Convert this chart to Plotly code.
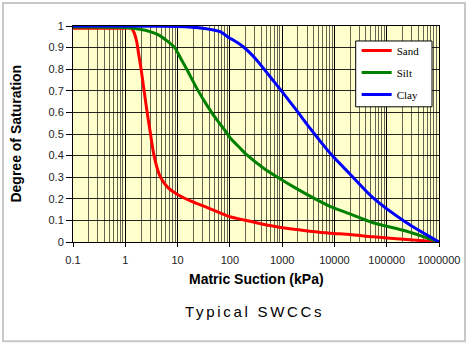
import plotly.graph_objects as go

# Soil-water characteristic curves: matric suction (kPa) vs degree of saturation
sand_suction = [0.1, 0.5, 1.0, 1.314, 1.499, 1.66, 1.788, 2.014, 2.238, 2.466, 2.716, 2.994,
                3.283, 3.585, 3.951, 4.411, 5.145, 6.553, 10.18, 18.6, 31, 65, 100, 156, 242,
                585, 1410, 3400, 8200, 19900, 55000, 240000, 1000000]
sand_sat = [0.99, 0.99, 0.99, 0.989, 0.965, 0.926, 0.875, 0.797, 0.718, 0.644, 0.575, 0.510,
            0.446, 0.395, 0.353, 0.316, 0.284, 0.252, 0.219, 0.188, 0.167, 0.135, 0.117, 0.106,
            0.096, 0.076, 0.061, 0.050, 0.041, 0.035, 0.024, 0.012, 0.0]

silt_suction = [0.1, 1.0, 1.91, 2.97, 4.4, 6.0, 8.8, 11.5, 15, 23.5, 36, 56, 75, 100, 156,
                209, 436, 908, 1890, 3940, 8200, 19800, 55000, 240000, 1000000]
silt_sat = [0.995, 0.993, 0.985, 0.974, 0.958, 0.935, 0.900, 0.850, 0.800, 0.710, 0.635, 0.566,
            0.527, 0.484, 0.435, 0.404, 0.343, 0.293, 0.247, 0.204, 0.165, 0.130, 0.089, 0.050,
            0.0]

clay_suction = [0.1, 10, 30, 64.7, 100, 116, 180, 325, 585, 1050, 1890, 3400, 8200, 19800,
                55000, 240000, 1000000]
clay_sat = [1.0, 0.998, 0.99, 0.974, 0.943, 0.935, 0.904, 0.843, 0.766, 0.689, 0.609, 0.527,
            0.412, 0.315, 0.204, 0.089, 0.0]

x_tick_vals = [0.1, 1, 10, 100, 1000, 10000, 100000, 1000000]
x_tick_text = ["0.1", "1", "10", "100", "1000", "10000", "100000", "1000000"]
y_tick_vals = [0, 0.1, 0.2, 0.3, 0.4, 0.5, 0.6, 0.7, 0.8, 0.9, 1]
y_tick_text = ["0", "0.1", "0.2", "0.3", "0.4", "0.5", "0.6", "0.7", "0.8", "0.9", "1"]

series = [
    ("Sand", sand_suction, sand_sat, "#ff0000"),
    ("Silt", silt_suction, silt_sat, "#008000"),
    ("Clay", clay_suction, clay_sat, "#0000ff"),
]

fig = go.Figure()
for name, xs, ys, color in series:
    fig.add_trace(go.Scatter(
        x=xs, y=ys, name=name, mode="lines", legendgroup=name,
        line=dict(color=color, width=3, shape="spline", smoothing=0.7),
    ))

sans = "Liberation Sans, Arial, sans-serif"

fig.update_layout(
    width=471, height=347,
    margin=dict(l=73, r=32, t=26, b=104.5),
    paper_bgcolor="white",
    plot_bgcolor="#ffffcc",
    showlegend=True,
    legend=dict(
        x=0.775, y=0.954, xanchor="left", yanchor="top",
        bgcolor="rgba(0,0,0,0)", borderwidth=0,
        font=dict(family="Liberation Serif, Times New Roman, serif", size=11, color="black"),
        tracegroupgap=3, itemwidth=30,
    ),
    xaxis=dict(
        type="log", range=[-1, 6],
        tickvals=x_tick_vals, ticktext=x_tick_text,
        tickfont=dict(family=sans, size=11, color="#222"),
        ticks="outside", ticklen=4, tickcolor="black", ticklabelstandoff=4,
        showgrid=True, gridcolor="black", gridwidth=1,
        minor=dict(dtick="D1", showgrid=True, gridcolor="rgba(0,0,0,0.6)", gridwidth=1),
        showline=True, linecolor="black", linewidth=1, mirror=True,
        zeroline=False,
    ),
    yaxis=dict(
        range=[0, 1],
        tickvals=y_tick_vals, ticktext=y_tick_text,
        tickfont=dict(family=sans, size=11, color="#222"),
        ticks="outside", ticklen=6, tickcolor="black",
        showgrid=True, gridcolor="rgba(0,0,0,0.85)", gridwidth=1,
        showline=True, linecolor="black", linewidth=1, mirror=True,
        zeroline=False,
    ),
    annotations=[
        dict(text="<b>Matric Suction (kPa)</b>", xref="paper", yref="paper",
             x=0.5, y=-0.173, xanchor="center", yanchor="middle", showarrow=False,
             font=dict(family=sans, size=14, color="black")),
        dict(text="<b>Degree of Saturation</b>", xref="paper", yref="paper",
             x=-0.157, y=0.5, xanchor="center", yanchor="middle", showarrow=False,
             textangle=-90, font=dict(family=sans, size=14, color="black")),
        dict(text='<span style="letter-spacing:2.7px">Typical SWCCs</span>',
             xref="paper", yref="paper",
             x=0.495, y=-0.321, xanchor="center", yanchor="middle", showarrow=False,
             font=dict(family=sans, size=15, color="black")),
    ],
    shapes=[
        # outer chart frame
        dict(type="rect", xref="paper", yref="paper",
             x0=-0.1913, x1=1.0710, y0=-0.4596, y1=1.1062,
             line=dict(color="#c8c8c8", width=2), fillcolor="rgba(0,0,0,0)"),
        # legend box
        dict(type="rect", xref="paper", yref="paper", layer="above",
             x0=0.7724, x1=0.9809, y0=0.6259, y1=0.9307,
             line=dict(color="black", width=1), fillcolor="white"),
    ],
)

fig.write_html("out.html")
